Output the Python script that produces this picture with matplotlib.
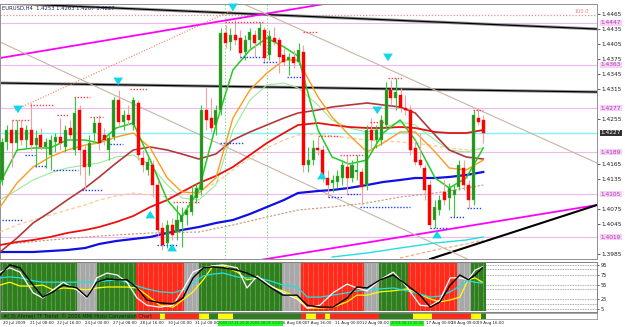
import matplotlib
matplotlib.use("Agg")
import matplotlib.pyplot as plt
import matplotlib.transforms as mtransforms
import numpy as np

symbol_text = "EURUSD,H4  1.4253 1.4263 1.4207 1.4227"

# H4 candles
opens = [1.4133, 1.4209, 1.4233, 1.4207, 1.4237, 1.4213, 1.4233, 1.4203, 1.4223, 1.4199,
         1.4183, 1.4209, 1.4219, 1.4199, 1.4237, 1.4193, 1.4273, 1.4193, 1.4159, 1.4227,
         1.4247, 1.4223, 1.4193, 1.4219, 1.4293, 1.4249, 1.4263, 1.4243, 1.4287, 1.4177,
         1.4153, 1.4163, 1.4123, 1.4037, 1.4007, 1.4043, 1.4029, 1.4049, 1.4063, 1.4069,
         1.4097, 1.4113, 1.4273, 1.4257, 1.4243, 1.4273, 1.4427, 1.4409, 1.4423, 1.4417,
         1.4389, 1.4413, 1.4423, 1.4413, 1.4433, 1.4383, 1.4417, 1.4413, 1.4383, 1.4373,
         1.4379, 1.4369, 1.4389, 1.4163, 1.4173, 1.4197, 1.4193, 1.4137, 1.4127, 1.4129,
         1.4137, 1.4159, 1.4137, 1.4149, 1.4149, 1.4123, 1.4233, 1.4213, 1.4213, 1.4243,
         1.4313, 1.4297, 1.4303, 1.4277, 1.4273, 1.4197, 1.4173, 1.4157, 1.4123, 1.4053,
         1.4073, 1.4109, 1.4097, 1.4103, 1.4119, 1.4157, 1.4123, 1.4093, 1.4257, 1.4253]
highs = [1.4217, 1.4243, 1.4253, 1.4253, 1.4253, 1.4243, 1.4287, 1.4233, 1.4237, 1.4217,
         1.4223, 1.4227, 1.4257, 1.4243, 1.4253, 1.4299, 1.4283, 1.4203, 1.4223, 1.4259,
         1.4263, 1.4237, 1.4223, 1.4299, 1.4313, 1.4273, 1.4283, 1.4299, 1.4293, 1.4193,
         1.4177, 1.4173, 1.4133, 1.4049, 1.4053, 1.4057, 1.4083, 1.4079, 1.4083, 1.4123,
         1.4127, 1.4283, 1.4319, 1.4297, 1.4283, 1.4437, 1.4443, 1.4437, 1.4453, 1.4433,
         1.4423, 1.4437, 1.4433, 1.4449, 1.4439, 1.4433, 1.4439, 1.4419, 1.4397, 1.4387,
         1.4393, 1.4407, 1.4403, 1.4199, 1.4213, 1.4219, 1.4203, 1.4153, 1.4143, 1.4153,
         1.4173, 1.4183, 1.4173, 1.4183, 1.4157, 1.4243, 1.4257, 1.4243, 1.4263, 1.4329,
         1.4333, 1.4337, 1.4317, 1.4303, 1.4283, 1.4213, 1.4227, 1.4163, 1.4133, 1.4093,
         1.4103, 1.4133, 1.4127, 1.4123, 1.4173, 1.4173, 1.4133, 1.4273, 1.4273, 1.4263]
lows = [1.4123, 1.4193, 1.4159, 1.4193, 1.4203, 1.4197, 1.4193, 1.4159, 1.4193, 1.4157,
        1.4153, 1.4189, 1.4193, 1.4189, 1.4213, 1.4183, 1.4143, 1.4113, 1.4143, 1.4213,
        1.4193, 1.4203, 1.4173, 1.4213, 1.4239, 1.4233, 1.4243, 1.4233, 1.4173, 1.4149,
        1.4143, 1.4099, 1.4023, 1.3993, 1.3997, 1.4013, 1.4013, 1.3999, 1.4043, 1.4063,
        1.4087, 1.4103, 1.4233, 1.4229, 1.4223, 1.4263, 1.4397, 1.4393, 1.4403, 1.4377,
        1.4373, 1.4397, 1.4379, 1.4403, 1.4367, 1.4373, 1.4403, 1.4347, 1.4363, 1.4343,
        1.4357, 1.4363, 1.4149, 1.4149, 1.4163, 1.4183, 1.4129, 1.4099, 1.4109, 1.4117,
        1.4123, 1.4107, 1.4129, 1.4133, 1.4083, 1.4113, 1.4193, 1.4197, 1.4203, 1.4237,
        1.4283, 1.4273, 1.4269, 1.4263, 1.4183, 1.4163, 1.4157, 1.4093, 1.4037, 1.4037,
        1.4063, 1.4083, 1.4073, 1.4059, 1.4113, 1.4113, 1.4077, 1.4083, 1.4243, 1.4207]
closes = [1.4209, 1.4233, 1.4207, 1.4233, 1.4213, 1.4233, 1.4203, 1.4217, 1.4199, 1.4209,
          1.4213, 1.4219, 1.4207, 1.4233, 1.4223, 1.4267, 1.4193, 1.4159, 1.4207, 1.4247,
          1.4207, 1.4213, 1.4217, 1.4293, 1.4249, 1.4263, 1.4253, 1.4293, 1.4183, 1.4163,
          1.4169, 1.4123, 1.4033, 1.4003, 1.4043, 1.4023, 1.4053, 1.4063, 1.4073, 1.4103,
          1.4117, 1.4273, 1.4253, 1.4237, 1.4273, 1.4427, 1.4407, 1.4423, 1.4413, 1.4387,
          1.4413, 1.4429, 1.4407, 1.4437, 1.4377, 1.4421, 1.4409, 1.4379, 1.4369, 1.4379,
          1.4367, 1.4393, 1.4163, 1.4173, 1.4197, 1.4193, 1.4137, 1.4123, 1.4133, 1.4141,
          1.4163, 1.4137, 1.4163, 1.4153, 1.4119, 1.4233, 1.4213, 1.4233, 1.4253, 1.4313,
          1.4297, 1.4309, 1.4277, 1.4273, 1.4193, 1.4169, 1.4163, 1.4113, 1.4043, 1.4079,
          1.4093, 1.4093, 1.4117, 1.4113, 1.4163, 1.4123, 1.4093, 1.4263, 1.4249, 1.4227]

# moving average lines (bar position, price)
ma_idx = [-0.4, 3.1, 6.4, 9.9, 13.4, 17.1, 20.0, 23.5, 27.0, 30.5, 34.0, 37.0, 40.5, 44.0, 47.5,
          51.0, 54.5, 58.0, 60.9, 65.0, 67.9, 71.4, 75.1, 78.4, 81.9, 85.0, 89.1, 92.0, 95.5, 99.0]
ma_blue = [1.3989, 1.3989, 1.3989, 1.3991, 1.3993, 1.3997, 1.4005, 1.4011, 1.4015, 1.4019,
           1.4027, 1.4033, 1.4039, 1.4047, 1.4053, 1.4065, 1.4079, 1.4093, 1.4107, 1.4111,
           1.4113, 1.4117, 1.4123, 1.4129, 1.4133, 1.4137, 1.4137, 1.4139, 1.4143, 1.4149]
ma_red = [1.4003, 1.4009, 1.4013, 1.4019, 1.4027, 1.4033, 1.4039, 1.4049, 1.4061, 1.4079,
          1.4093, 1.4109, 1.4127, 1.4141, 1.4159, 1.4183, 1.4207, 1.4227, 1.4243, 1.4247,
          1.4243, 1.4239, 1.4237, 1.4237, 1.4239, 1.4237, 1.4229, 1.4227, 1.4227, 1.4233]
ma_maroon = [1.3989, 1.4017, 1.4047, 1.4069, 1.4093, 1.4117, 1.4139, 1.4167, 1.4193, 1.4199,
             1.4193, 1.4185, 1.4175, 1.4185, 1.4213, 1.4229, 1.4243, 1.4257, 1.4267, 1.4273,
             1.4279, 1.4283, 1.4287, 1.4283, 1.4279, 1.4267, 1.4223, 1.4193, 1.4179, 1.4175]
ma_orange = [1.4079, 1.4127, 1.4159, 1.4179, 1.4193, 1.4203, 1.4207, 1.4219, 1.4227, 1.4197,
             1.4137, 1.4109, 1.4107, 1.4137, 1.4257, 1.4313, 1.4347, 1.4373, 1.4373, 1.4299,
             1.4259, 1.4223, 1.4189, 1.4207, 1.4229, 1.4229, 1.4189, 1.4157, 1.4153, 1.4173]
ma_green = [1.4127, 1.4193, 1.4197, 1.4197, 1.4213, 1.4213, 1.4207, 1.4237, 1.4247, 1.4173,
            1.4093, 1.4059, 1.4113, 1.4243, 1.4353, 1.4393, 1.4417, 1.4399, 1.4381, 1.4233,
            1.4179, 1.4165, 1.4173, 1.4227, 1.4253, 1.4213, 1.4137, 1.4117, 1.4137, 1.4197]
ma_lightgreen = [1.4093, 1.4113, 1.4133, 1.4147, 1.4157, 1.4163, 1.4167, 1.4179, 1.4183, 1.4163,
                 1.4123, 1.4097, 1.4093, 1.4123, 1.4233, 1.4293, 1.4323, 1.4327, 1.4317, 1.4283,
                 1.4253, 1.4237, 1.4229, 1.4237, 1.4249, 1.4243, 1.4213, 1.4193, 1.4189, 1.4197]
ma_lightorange = [1.4029, 1.4043, 1.4053, 1.4063, 1.4073, 1.4083, 1.4093, 1.4101, 1.4107, 1.4103,
                  1.4099, 1.4103, 1.4113, 1.4127, 1.4153, 1.4177, 1.4197, 1.4213, 1.4223, 1.4225,
                  1.4221, 1.4217, 1.4213, 1.4211, 1.4209, 1.4207, 1.4201, 1.4197, 1.4193, 1.4197]
slow_idx = [-0.4, 9.9, 20.0, 30.5, 40.5, 47.5, 54.5, 60.9, 67.9, 75.1, 81.9, 89.1, 95.5, 99.0]
ma_brown = [1.4003, 1.4013, 1.4021, 1.4027, 1.4029, 1.4043, 1.4059, 1.4073, 1.4079, 1.4087,
            1.4099, 1.4107, 1.4117, 1.4123]
cyan_idx = [67.9, 75.1, 81.9, 89.1, 95.5, 99.0]
ma_cyan = [1.3979, 1.3987, 1.3997, 1.4007, 1.4013, 1.4019]
peach_idx = [81.9, 89.1, 95.5, 99.0]
ma_peach = [1.3977, 1.3993, 1.4005, 1.4013]

# drawn objects
level_prices = [1.4447, 1.4363, 1.4277, 1.4189, 1.4105, 1.4019]
level_top = 1.4463
bid_price = 1.4227
vline_idx = [45.9, 54.5]
trend_top = ([-0.4, 122.4], [1.4487, 1.4435])
trend_mid = ([-0.4, 122.4], [1.4327, 1.4309])
trend_magenta_up = ([-0.4, 71.2], [1.4377, 1.4493])
trend_magenta_lo = ([53.1, 122.4], [1.3973, 1.4083])
trend_black_lo = ([88.1, 122.4], [1.3975, 1.4083])
trend_tan_a = ([-0.4, 95.7], [1.4409, 1.3975])
trend_tan_b = ([47.9, 122.4], [1.4493, 1.4167])
trend_salmon = ([2.7, 47.5], [1.4273, 1.4473])

# fractal levels: start bar, end bar, price
red_marks = [(5.8, 10.5, 1.4283), (14.8, 18.1, 1.4299), (26.3, 29.8, 1.4315), (2.1, 5.8, 1.4253),
             (11.3, 13.6, 1.4263), (18.1, 20.8, 1.4259), (35.2, 40.7, 1.4089), (45.9, 53.7, 1.4449),
             (61.9, 64.8, 1.4429), (65.0, 69.5, 1.4221), (69.5, 74.3, 1.4183), (75.7, 78.8, 1.4249),
             (79.4, 82.5, 1.4337), (96.9, 99.0, 1.4273)]
blue_marks = [(0.0, 4.1, 1.4053), (4.7, 6.8, 1.4183), (6.8, 9.3, 1.4161), (10.5, 15.6, 1.4153),
              (16.5, 20.8, 1.4113), (22.2, 24.9, 1.4205), (31.9, 36.0, 1.4003), (44.9, 49.6, 1.4207),
              (49.0, 53.5, 1.4379), (53.7, 56.8, 1.4369), (58.6, 62.3, 1.4339), (67.1, 70.2, 1.4099),
              (71.0, 73.7, 1.4105), (73.7, 84.0, 1.4079), (88.1, 91.6, 1.4037), (92.2, 95.3, 1.4059),
              (95.7, 98.8, 1.4077)]
arrow_dn = [(3.3, 1.4261), (23.9, 1.4317), (47.5, 1.4465), (79.4, 1.4365), (77.2, 1.4259)]
arrow_up = [(30.5, 1.4077), (35.0, 1.4011), (65.8, 1.4155), (89.5, 1.4037)]

# lower oscillator window
osc_idx = [-0.4, 1.6, 3.7, 6.4, 8.4, 10.5, 12.6, 15.4, 17.5, 19.5, 21.6, 23.7, 25.7, 27.8, 29.8,
           32.5, 35.2, 37.2, 39.3, 41.4, 43.4, 45.5, 48.4, 50.4, 52.5, 55.1, 57.8, 60.7, 62.8, 65.4,
           68.1, 71.0, 73.0, 75.1, 77.8, 80.5, 83.3, 86.0, 88.1, 90.1, 92.2, 94.2, 95.9, 97.3, 98.8]
osc_black = [75, 96, 90, 54, 29, 40, 54, 48, 29, 60, 67, 65, 65, 48, 23, 17, 15, 27, 69, 90,
             92, 90, 85, 79, 69, 50, 33, 33, 12, 8, 8, 27, 50, 48, 65, 75, 54, 33, 8, 19,
             54, 75, 65, 75, 90]
osc_white = [81, 90, 81, 38, 27, 44, 60, 44, 27, 69, 79, 75, 60, 27, 12, 8, 12, 44, 81, 90,
             94, 96, 90, 48, 73, 54, 38, 25, 6, 12, 38, 56, 48, 42, 65, 81, 50, 12, 10, 23,
             69, 69, 65, 85, 92]
osc_cyan = [69, 71, 69, 63, 60, 60, 60, 60, 60, 60, 63, 65, 60, 52, 46, 40, 38, 44, 58, 73,
            77, 79, 71, 69, 69, 63, 54, 50, 29, 29, 33, 38, 42, 44, 46, 48, 42, 35, 29, 31,
            40, 52, 63, 60, 58]
osc_yellow = [54, 60, 52, 52, 54, 44, 48, 46, 44, 48, 50, 50, 50, 48, 33, 12, 8, 23, 40, 65,
              94, 94, 81, 65, 69, 50, 42, 29, 6, 6, 8, 19, 33, 33, 40, 42, 46, 35, 25, 19,
              23, 29, 65, 69, 60]
osc_levels = [95, 88, 75, 55, 45, 25, 15, 5]
osc_labels = [95, 75, 55, 25, 5]
zone_start = [0, 16, 20, 28, 38, 41, 58, 62, 75, 78, 84, 94, 97]
zone_end = [15, 19, 27, 37, 40, 57, 61, 74, 77, 83, 93, 96, 99]
zone_color = ["#2f7f1f", "#a8a8a8", "#2f7f1f", "#ff2a1a", "#a8a8a8", "#2f7f1f", "#a8a8a8",
              "#ff2a1a", "#a8a8a8", "#2f7f1f", "#ff2a1a", "#a8a8a8", "#2f7f1f"]
strip_start = [0, 28, 33, 34, 41, 43, 45, 48, 62, 63, 65, 67, 68, 78, 85, 89, 97, 99]
strip_end = [27, 32, 33, 40, 42, 44, 47, 61, 62, 64, 66, 67, 77, 84, 88, 96, 98, 99]
strip_color = ["#2f7f1f", "#ff2a1a", "#ffff00", "#ff2a1a", "#ffff00", "#2f7f1f", "#ffff00",
               "#2f7f1f", "#ff2a1a", "#ffff00", "#ff2a1a", "#ffff00", "#ff2a1a", "#2f7f1f",
               "#ffff00", "#ff2a1a", "#ffff00", "#2f7f1f"]
indicator_text = "#( 3) Ahmeji TF Trend  \u00a9 2006 MMI Histo Conversion Chart"

date_pos = [0.2, 5.8, 11.3, 17.1, 22.8, 28.4, 34.2, 39.7, 57.8, 62.8, 68.5, 74.0,
            87.2, 92.4, 97.7]
date_labels = ["20 Jul 2009", "21 Jul 08:00", "22 Jul 16:00", "24 Jul 00:00", "27 Jul 08:00",
               "28 Jul 16:00", "30 Jul 00:00", "31 Jul 08:00", "6 Aug 08:00", "7 Aug 16:00",
               "11 Aug 00:00", "12 Aug 08:00", "17 Aug 00:00", "18 Aug 08:00", "19 Aug 16:00"]
box_pos = [44.5, 51.0, 80.0]
box_labels = ["2009.07.31 20:00", "2009.08.05 00:00", "2009.08.13 16:00"]

W, H = 625, 327
XLIM = (-0.41, 122.4)


def rect(x0, y0, x1, y1):
    return [x0 / W, 1 - y1 / H, (x1 - x0) / W, (y1 - y0) / H]


fig = plt.figure(figsize=(6.25, 3.27), dpi=100)
fig.patch.set_facecolor("white")
ax = fig.add_axes(rect(0, 4, 597, 259))
ax_osc = fig.add_axes(rect(0, 262, 597, 312))
ax_bar = fig.add_axes(rect(0, 313, 597, 319))

# ---- main price window
ax.set_xlim(*XLIM)
ax.set_ylim(1.3975, 1.4485)

for p in level_prices:
    ax.axhline(p, color="#f0b8f0", lw=0.8, zorder=1)
ax.axhline(level_top, color="#f08f8f", lw=0.9, ls=(0, (1, 1.5)), zorder=1)
ax.axhline(bid_price, color="#7ff5f5", lw=1.0, zorder=1)
for v in vline_idx:
    ax.axvline(v, color="#66dd66", lw=0.8, ls=(0, (1, 2)), zorder=1)

for tl in (trend_top, trend_mid):
    ax.plot(*tl, color="#9a9a9a", lw=2.2, zorder=2, solid_capstyle="butt")
    ax.plot(*tl, color="black", lw=0.9, zorder=2)
ax.plot(*trend_magenta_up, color="#ff00ff", lw=1.3, zorder=2)
ax.plot(*trend_magenta_lo, color="#ff00ff", lw=1.3, zorder=2)
ax.plot(*trend_black_lo, color="black", lw=1.5, zorder=2)
ax.plot(*trend_tan_a, color="#c8b4a4", lw=0.8, zorder=2)
ax.plot(*trend_tan_b, color="#c8b4a4", lw=0.8, zorder=2)
ax.plot(*trend_salmon, color="#f08060", lw=0.8, ls=(0, (1, 1.5)), zorder=2)

ax.plot(slow_idx, ma_brown, color="#c09878", lw=0.8, ls=(0, (2, 1.5)), zorder=3)
ax.plot(cyan_idx, ma_cyan, color="#20e0e0", lw=1.0, zorder=3)
ax.plot(peach_idx, ma_peach, color="#f0a070", lw=0.8, ls=(0, (3, 2)), zorder=3)
ax.plot(ma_idx, ma_lightorange, color="#ffc890", lw=0.9, ls=(0, (3, 2)), zorder=3)
ax.plot(ma_idx, ma_lightgreen, color="#9ce89c", lw=0.8, zorder=3)
ax.plot(ma_idx, ma_blue, color="#1010e0", lw=1.6, zorder=3)
ax.plot(ma_idx, ma_maroon, color="#b03a3a", lw=1.2, zorder=3)
ax.plot(ma_idx, ma_red, color="#e81010", lw=1.3, zorder=3)
ax.plot(ma_idx, ma_orange, color="#ff9a1a", lw=1.0, zorder=3)
ax.plot(ma_idx, ma_green, color="#22cc22", lw=1.1, zorder=3)

idx = np.arange(len(closes))
o, h, l, c = (np.array(a) for a in (opens, highs, lows, closes))
up = c >= o
ax.vlines(idx[up], l[up], h[up], color="#33cc33", lw=0.8, zorder=4)
ax.vlines(idx[~up], l[~up], h[~up], color="#f4a0a0", lw=0.8, zorder=4)
body_lo = np.minimum(o, c)
body_h = np.maximum(np.abs(c - o), 0.00015)
ax.bar(idx[up], body_h[up], bottom=body_lo[up], width=0.62, color="#2e8b22",
       edgecolor="#3ccc3c", lw=0.3, zorder=5)
ax.bar(idx[~up], body_h[~up], bottom=body_lo[~up], width=0.62, color="#ff0000",
       edgecolor="#ff0000", lw=0.3, zorder=5)

for xs, xe, p in red_marks:
    ax.hlines(p, xs, xe, colors="#ff4040", lw=1.0, linestyles=(0, (1, 1.2)), zorder=6)
for xs, xe, p in blue_marks:
    ax.hlines(p, xs, xe, colors="#2040ff", lw=1.0, linestyles=(0, (1, 1.2)), zorder=6)

arrow_style = "simple,head_width=0.7,head_length=0.55,tail_width=0.3"
for xa, ya in arrow_dn:
    ax.annotate("", xy=(xa, ya), xytext=(0, 6), textcoords="offset points",
                arrowprops=dict(arrowstyle=arrow_style, color="#10d8e8", lw=0), zorder=7)
for xa, ya in arrow_up:
    ax.annotate("", xy=(xa, ya), xytext=(0, -6), textcoords="offset points",
                arrowprops=dict(arrowstyle=arrow_style, color="#10d8e8", lw=0), zorder=7)

ax.text(0.004, 0.993, symbol_text, transform=ax.transAxes, va="top", ha="left",
        fontsize=3.8, color="#202050")

# price scale: plain ticks where no object label sits
ticks = 1.4465 - 0.003 * np.arange(17)
boxed = level_prices + [bid_price]
ticks = [t for t in ticks if min(abs(t - b) for b in boxed) > 0.0011]
ax.yaxis.tick_right()
ax.set_yticks(ticks)
ax.set_yticklabels([f"{t:.4f}" for t in ticks])
ax.tick_params(axis="y", labelsize=4.2, length=2, pad=1, width=0.5, colors="#202020")
ax.set_xticks([])
for s in ax.spines.values():
    s.set_color("#909090")
    s.set_linewidth(0.7)

trans_r = mtransforms.blended_transform_factory(ax.transAxes, ax.transData)
for p in level_prices:
    ax.text(1.006, p, f"{p:.4f}", transform=trans_r, fontsize=4.2, va="center", ha="left",
            color="#b040b0", bbox=dict(boxstyle="square,pad=0.12", fc="#f6d0f6", ec="none"))
ax.text(0.962, level_top + 0.0002, "100.0", transform=trans_r, fontsize=3.6, va="bottom",
        ha="left", color="#e08080")
ax.text(1.006, bid_price, f"{bid_price:.4f}", transform=trans_r, fontsize=4.2, va="center",
        ha="left", color="white", bbox=dict(boxstyle="square,pad=0.12", fc="#303030", ec="none"))

# ---- oscillator window
ax_osc.set_xlim(*XLIM)
ax_osc.set_ylim(-2.1, 102.1)
for s0, s1, col in zip(zone_start, zone_end, zone_color):
    ax_osc.axvspan(s0 - 0.5, s1 + 0.5, ymin=0.02, ymax=0.98, color=col, lw=0, zorder=1)
ax_osc.vlines(idx, 0, 100, colors="white", lw=0.4, linestyles=(0, (1, 1)), alpha=0.75, zorder=2)
ax_osc.hlines(osc_levels, 99.6, XLIM[1], colors="#909090", lw=0.6, linestyles=(0, (1, 1)), zorder=2)
ax_osc.plot(osc_idx, osc_yellow, color="#ffff00", lw=0.9, zorder=3)
ax_osc.plot(osc_idx, osc_cyan, color="#20e0e0", lw=0.9, zorder=3)
ax_osc.plot(osc_idx, osc_white, color="white", lw=0.9, zorder=4)
ax_osc.plot(osc_idx, osc_black, color="black", lw=1.0, zorder=5)
ax_osc.yaxis.tick_right()
ax_osc.set_yticks(osc_labels)
ax_osc.set_yticklabels([str(v) for v in osc_labels])
ax_osc.tick_params(axis="y", labelsize=3.6, length=1.5, pad=1, width=0.5, colors="#202020")
ax_osc.set_xticks([])
for s in ax_osc.spines.values():
    s.set_color("#808080")
    s.set_linewidth(0.7)

# ---- trend strip and time axis
ax_bar.set_xlim(*XLIM)
ax_bar.set_ylim(0, 1)
for s0, s1, col in zip(strip_start, strip_end, strip_color):
    ax_bar.axvspan(s0 - 0.5, s1 + 0.5, color=col, lw=0)
ax_bar.text(0.3, 0.45, indicator_text, fontsize=3.6, color="#202020", va="center", ha="left")
ax_bar.set_xticks([])
ax_bar.set_yticks([])
for s in ax_bar.spines.values():
    s.set_color("#808080")
    s.set_linewidth(0.5)

trans_b = mtransforms.blended_transform_factory(ax_bar.transData, ax_bar.transAxes)
for xp, lab in zip(date_pos, date_labels):
    ax_bar.text(xp, -0.35, lab, transform=trans_b, fontsize=2.9, va="top", ha="left",
                color="#202020", clip_on=False)
for xp, lab in zip(box_pos, box_labels):
    ax_bar.text(xp, -0.35, lab, transform=trans_b, fontsize=2.6, va="top", ha="left",
                color="#207020", clip_on=False,
                bbox=dict(boxstyle="square,pad=0.15", fc="#22ff22", ec="none"), zorder=5)

fig.savefig("out.png", dpi=100, facecolor="white")
